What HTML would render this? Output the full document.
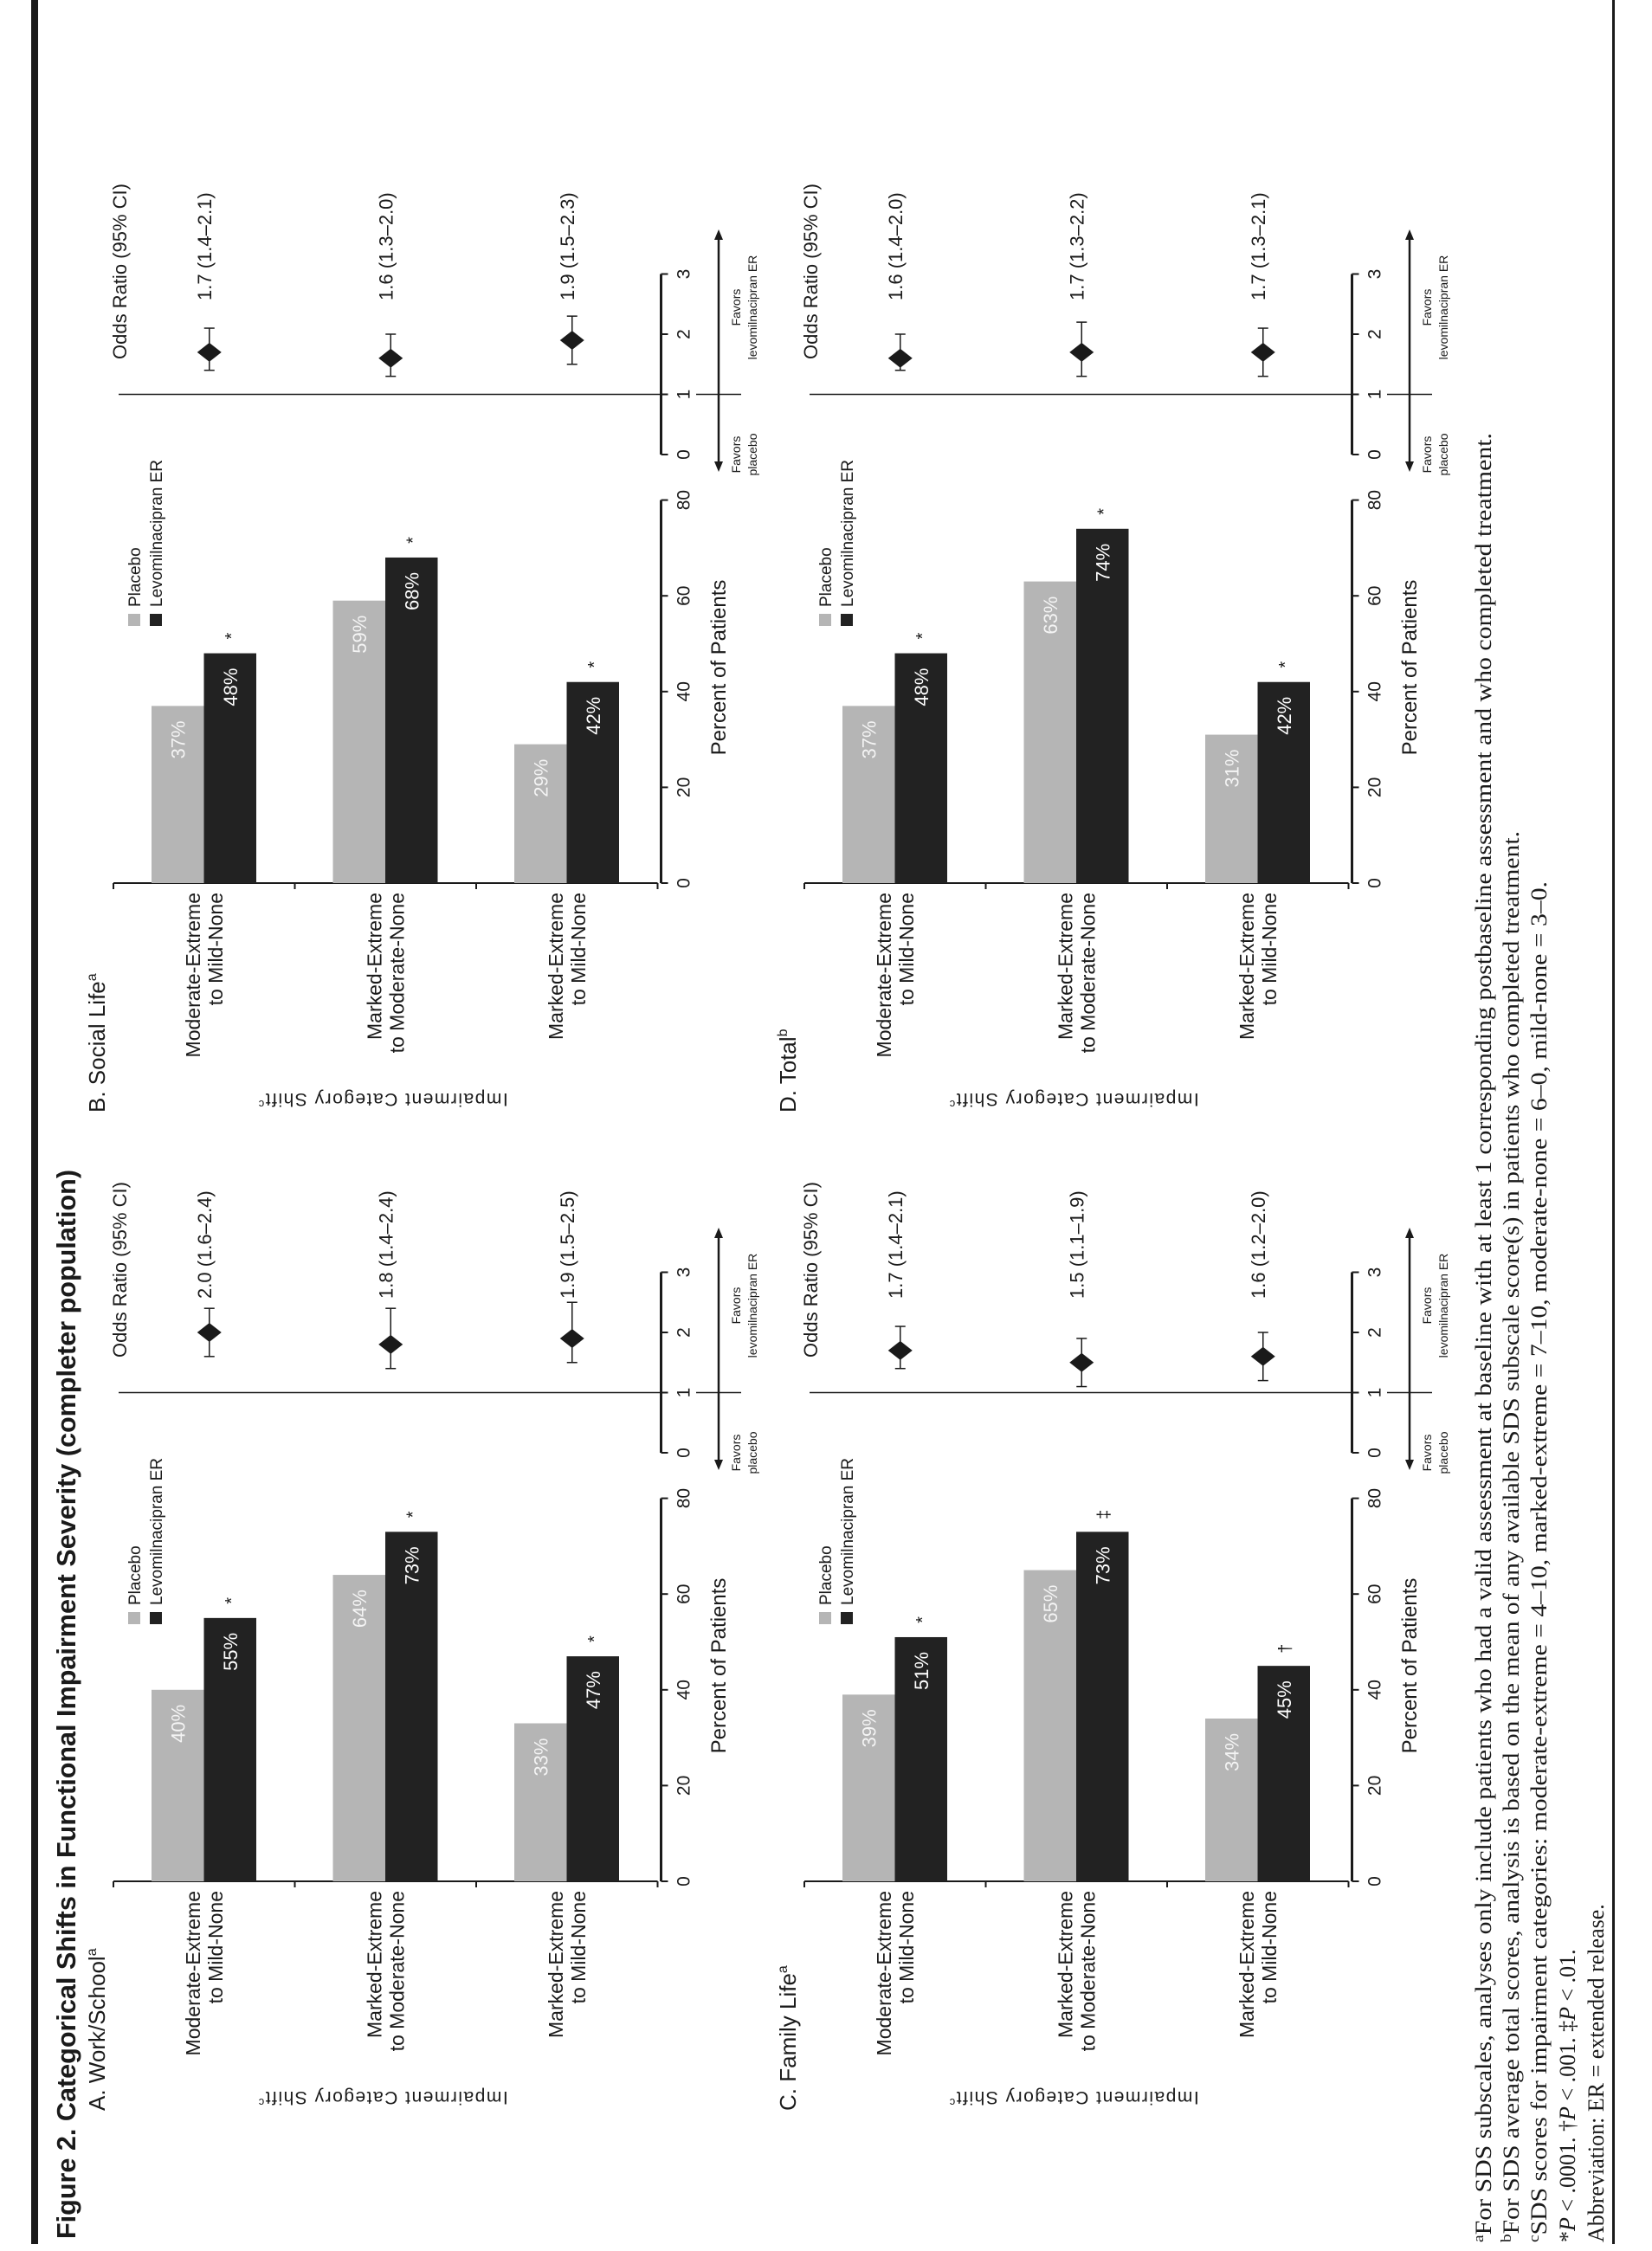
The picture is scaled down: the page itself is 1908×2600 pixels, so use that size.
<!DOCTYPE html>
<html><head><meta charset="utf-8">
<style>
html,body{margin:0;padding:0;background:#fff;}
svg{display:block;}
text{font-family:"Liberation Sans",sans-serif;fill:#1a1a1a;}
.serif{font-family:"Liberation Serif",serif;}
</style></head>
<body>
<svg id="fig" width="1908" height="2600" viewBox="0 0 1908 2600" xmlns="http://www.w3.org/2000/svg">
<rect x="0" y="0" width="1908" height="2600" fill="#fff"/>
<rect x="36" y="0" width="8" height="2592" fill="#1a1a1a"/>
<rect x="1862" y="0" width="3" height="2592" fill="#1a1a1a"/>
<g id="land" transform="translate(0,2600) rotate(-90)">
<text x="14" y="87" font-size="31" font-weight="bold" textLength="1235" lengthAdjust="spacingAndGlyphs">Figure 2. Categorical Shifts in Functional Impairment Severity (completer population)</text>
<g>
<text class="serif" x="10" y="1722" font-size="26" textLength="2090" lengthAdjust="spacingAndGlyphs"><tspan font-size="17" dy="-9">a</tspan><tspan dy="9">For SDS subscales, analyses only include patients who had a valid assessment at baseline with at least 1 corresponding postbaseline assessment and who completed treatment.</tspan></text>
<text class="serif" x="10" y="1754" font-size="26" textLength="1630" lengthAdjust="spacingAndGlyphs"><tspan font-size="17" dy="-9">b</tspan><tspan dy="9">For SDS average total scores, analysis is based on the mean of any available SDS subscale score(s) in patients who completed treatment.</tspan></text>
<text class="serif" x="10" y="1786" font-size="26" textLength="1572" lengthAdjust="spacingAndGlyphs"><tspan font-size="17" dy="-9">c</tspan><tspan dy="9">SDS scores for impairment categories: moderate-extreme = 4–10, marked-extreme = 7–10, moderate-none = 6–0, mild-none = 3–0.</tspan></text>
<text class="serif" x="10" y="1819" font-size="26">*<tspan font-style="italic">P</tspan> &lt; .0001.  †<tspan font-style="italic">P</tspan> &lt; .001.  ‡<tspan font-style="italic">P</tspan> &lt; .01.</text>
<text class="serif" x="10" y="1852" font-size="26">Abbreviation: ER = extended release.</text>
</g>
</g>
</svg>
<script>
const categories = [["Moderate-Extreme","to Mild-None"],["Marked-Extreme","to Moderate-None"],["Marked-Extreme","to Mild-None"]];
const panelTitles = ["A. Work/School","B. Social Life","C. Family Life","D. Total"];
const panelTitleSup = ["a","a","a","b"];
const placeboA = [40,64,33];
const levoA = [55,73,47];
const sigA = ["*","*","*"];
const orA = [2.0,1.8,1.9];
const orLoA = [1.6,1.4,1.5];
const orHiA = [2.4,2.4,2.5];
const placeboB = [37,59,29];
const levoB = [48,68,42];
const sigB = ["*","*","*"];
const orB = [1.7,1.6,1.9];
const orLoB = [1.4,1.3,1.5];
const orHiB = [2.1,2.0,2.3];
const placeboC = [39,65,34];
const levoC = [51,73,45];
const sigC = ["*","‡","†"];
const orC = [1.7,1.5,1.6];
const orLoC = [1.4,1.1,1.2];
const orHiC = [2.1,1.9,2.0];
const placeboD = [37,63,31];
const levoD = [48,74,42];
const sigD = ["*","*","*"];
const orD = [1.6,1.7,1.7];
const orLoD = [1.4,1.3,1.3];
const orHiD = [2.0,2.2,2.1];
const pctTicks = [0,20,40,60,80];
const orTicks = [0,1,2,3];

const NS = "http://www.w3.org/2000/svg";
const land = document.getElementById("land");
function mk(tag, attrs, parent, txt){
  const e = document.createElementNS(NS, tag);
  for (const k in attrs) e.setAttribute(k, attrs[k]);
  if (txt !== undefined) e.textContent = txt;
  parent.appendChild(e);
  return e;
}
function fmt(v){ return v.toFixed(1); }

const panels = [
  {ox:0, oy:0, pl:placeboA, lv:levoA, sig:sigA, or:orA, lo:orLoA, hi:orHiA},
  {ox:1153, oy:0, pl:placeboB, lv:levoB, sig:sigB, or:orB, lo:orLoB, hi:orHiB},
  {ox:0, oy:798, pl:placeboC, lv:levoC, sig:sigC, or:orC, lo:orLoC, hi:orHiC},
  {ox:1153, oy:798, pl:placeboD, lv:levoD, sig:sigD, or:orD, lo:orLoD, hi:orHiD}
];

panels.forEach((p, pi) => {
  const g = mk("g", {transform:`translate(${p.ox},${p.oy})`}, land);
  
  
  const X0 = 427, PX = 5.53;
  const xPct = v => X0 + v * PX;
  const OR0 = 922, ORU = 69.5;
  const xOr = v => OR0 + v * ORU;
  const bandTop = 131, bandH = 209.5, axisY = 763.5;
  const bandY = i => bandTop + i * bandH;

  // panel title
  const pt = mk("text", {x:162, y:121, "font-size":26}, g);
  
  
  mk("tspan", {}, pt, panelTitles[pi]);
  mk("tspan", {"font-size":16, dy:-10}, pt, panelTitleSup[pi]);

  // y axis title
  const yt = mk("text", {x:0, y:0, "font-size":21, "letter-spacing":"1.5", "text-anchor":"middle", transform:`translate(184,442) rotate(-90)`}, g);
  
  
  mk("tspan", {}, yt, "Impairment Category Shift");
  mk("tspan", {"font-size":13, dy:-8}, yt, "c");

  // category axis
  const ca = mk("line", {x1:X0, y1:bandY(0), x2:X0, y2:bandY(3), stroke:"#1a1a1a", "stroke-width":2}, g);
  
  
  for (let i = 0; i <= 3; i++) {
    const t = mk("line", {x1:X0-7, y1:bandY(i), x2:X0, y2:bandY(i), stroke:"#1a1a1a", "stroke-width":2}, g);
    
    
  }
  categories.forEach((c, i) => {
    const cy = bandY(i) + bandH/2;
    const ct = mk("text", {x:416, y:cy-4, "font-size":23, "text-anchor":"end"}, g);
    
    
    mk("tspan", {x:416, y:cy-5}, ct, c[0]);
    mk("tspan", {x:416, y:cy+21}, ct, c[1]);
  });

  // value axis
  const va = mk("line", {x1:xPct(0), y1:axisY, x2:xPct(80), y2:axisY, stroke:"#1a1a1a", "stroke-width":3}, g);
  
  
  pctTicks.forEach(v => {
    const tk = mk("line", {x1:xPct(v), y1:axisY, x2:xPct(v), y2:axisY+8, stroke:"#1a1a1a", "stroke-width":2}, g);
    
    
    const tl = mk("text", {x:xPct(v), y:axisY+33, "font-size":21, "text-anchor":"middle"}, g, String(v));
    
    
  });
  const xt = mk("text", {x:676, y:838, "font-size":24, "text-anchor":"middle"}, g, "Percent of Patients");
  
  

  // bars
  categories.forEach((c, i) => {
    const y0 = bandY(i) + 44;
    const bw = 60.5;
    const pv = p.pl[i], lv = p.lv[i];
    const rb = mk("rect", {x:X0, y:y0, width:xPct(pv)-X0, height:bw, fill:"#b5b5b5"}, g);
    
    
    const rl = mk("rect", {x:X0, y:y0+bw, width:xPct(lv)-X0, height:bw, fill:"#222"}, g);
    
    
    const t1 = mk("text", {x:xPct(pv)-17, y:y0+bw/2+8, "font-size":22, "text-anchor":"end", style:"fill:#f4f4f4"}, g, pv + "%");
    
    
    const t2 = mk("text", {x:xPct(lv)-17, y:y0+bw*1.5+8, "font-size":22, "text-anchor":"end", style:"fill:#fff"}, g, lv + "%");
    
    
    const s = mk("text", {x:xPct(lv)+20, y:y0+bw*1.5+8, "font-size":20, "text-anchor":"middle"}, g, p.sig[i]);
    
    
  });

  // legend
  const lg = mk("g", {}, g);
  
  
  const lr1 = mk("rect", {x:724, y:148, width:14, height:14, fill:"#b5b5b5"}, lg);
  
  
  const lt1 = mk("text", {x:746, y:162, "font-size":19}, lg, "Placebo");
  
  
  const lr2 = mk("rect", {x:724, y:173, width:14, height:14, fill:"#222"}, lg);
  
  
  const lt2 = mk("text", {x:746, y:187, "font-size":19}, lg, "Levomilnacipran ER");
  
  

  // odds ratio axis
  const oa = mk("line", {x1:xOr(0), y1:axisY, x2:xOr(3), y2:axisY, stroke:"#1a1a1a", "stroke-width":3}, g);
  
  
  orTicks.forEach(v => {
    const tk = mk("line", {x1:xOr(v), y1:axisY, x2:xOr(v), y2:axisY+8, stroke:"#1a1a1a", "stroke-width":2}, g);
    
    
    const tl = mk("text", {x:xOr(v), y:axisY+33, "font-size":21, "text-anchor":"middle"}, g, String(v));
    
    
  });
  const rl1 = mk("line", {x1:xOr(1), y1:137, x2:xOr(1), y2:axisY, stroke:"#1a1a1a", "stroke-width":1.5}, g);
  
  
  const rl2 = mk("line", {x1:xOr(1), y1:804, x2:xOr(1), y2:856, stroke:"#1a1a1a", "stroke-width":1.5}, g);
  
  
  const ot = mk("text", {x:1032, y:146, "font-size":22}, g, "Odds Ratio (95% CI)");
  
  

  // arrow
  const ar = mk("line", {x1:910, y1:830, x2:1174, y2:830, stroke:"#1a1a1a", "stroke-width":2.5}, g);
  
  
  const ah1 = mk("path", {d:"M902,830 L914,825 L914,835 Z", fill:"#1a1a1a"}, g);
  
  
  const ah2 = mk("path", {d:"M1182,830 L1170,825 L1170,835 Z", fill:"#1a1a1a"}, g);
  
  
  const f1 = mk("text", {x:xOr(0), y:855, "font-size":14, "text-anchor":"middle"}, g);
  
  
  mk("tspan", {x:xOr(0), y:855}, f1, "Favors");
  mk("tspan", {x:xOr(0), y:874}, f1, "placebo");
  const f2 = mk("text", {x:1092, y:855, "font-size":14, "text-anchor":"middle"}, g);
  
  
  mk("tspan", {x:1092, y:855}, f2, "Favors");
  mk("tspan", {x:1092, y:874}, f2, "levomilnacipran ER");

  // odds ratio points
  categories.forEach((c, i) => {
    const cy = bandY(i) + bandH/2 + 6;
    const ci = mk("line", {x1:xOr(p.lo[i]), y1:cy, x2:xOr(p.hi[i]), y2:cy, stroke:"#1a1a1a", "stroke-width":1.5}, g);
    
    
    const c1 = mk("line", {x1:xOr(p.lo[i]), y1:cy-6, x2:xOr(p.lo[i]), y2:cy+6, stroke:"#1a1a1a", "stroke-width":1.5}, g);
    
    
    const c2 = mk("line", {x1:xOr(p.hi[i]), y1:cy-6, x2:xOr(p.hi[i]), y2:cy+6, stroke:"#1a1a1a", "stroke-width":1.5}, g);
    
    
    const x = xOr(p.or[i]);
    const d = mk("path", {d:`M${x-11},${cy} L${x},${cy-14} L${x+11},${cy} L${x},${cy+14} Z`, fill:"#1a1a1a"}, g);
    
    
    const t = mk("text", {x:1100, y:cy+2, "font-size":22}, g, `${fmt(p.or[i])} (${fmt(p.lo[i])}–${fmt(p.hi[i])})`);
    
    
  });
});
</script>
</body></html>
